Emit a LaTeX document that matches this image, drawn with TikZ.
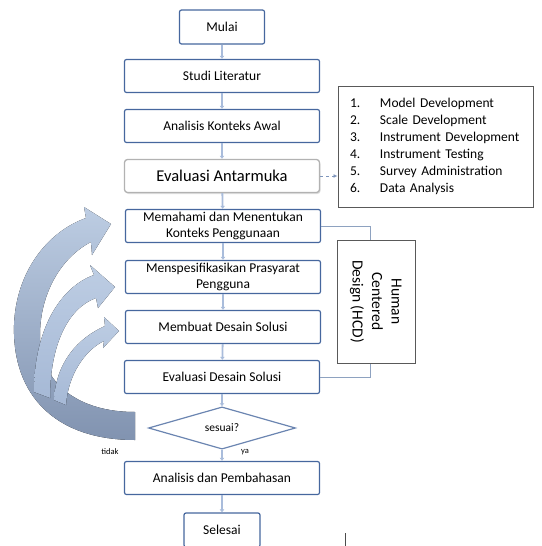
\documentclass[tikz,border=0pt]{standalone}
\usepackage{fontspec}
\usepackage{graphicx}
\setmainfont{Carlito}
\usetikzlibrary{shapes.geometric,arrows.meta,shadows}
\definecolor{bord}{HTML}{46679E}
\definecolor{lblue}{HTML}{A9BCDB}
\definecolor{hline}{HTML}{8EA2C0}
\definecolor{arrlight}{HTML}{BDCDE3}
\definecolor{arrmid}{HTML}{A6B9D6}
\definecolor{arrdark}{HTML}{8193B0}
\definecolor{gbord}{HTML}{595959}
\begin{document}
\begin{tikzpicture}[x=1pt,y=-1pt,
  box/.style={draw=bord, line width=1.2pt, rounded corners=2pt, fill=white,
    minimum width=195pt, minimum height=33pt, align=center, inner sep=1pt,
    font=\fontsize{13.5}{15.5}\selectfont},
  conn/.style={draw=lblue, line width=1.8pt, -{Latex[length=3pt,width=5pt]}},
  hcdline/.style={draw=hline, line width=1pt},
  smalllbl/.style={font=\fontsize{8.5}{9}\selectfont},
]
\useasboundingbox (0,0) rectangle (541,546);

% big feedback arrows
\fill[top color=arrlight, bottom color=arrdark]
  (135,440) .. controls (55,440) and (12,395) .. (14,325)
  .. controls (16,272) and (47,232) .. (86,218)
  -- (84,207) -- (111,224) -- (92,255) -- (91,242)
  .. controls (60,258) and (40,295) .. (40,335)
  .. controls (40,385) and (80,412) .. (135,412) -- cycle;
\fill[top color=arrlight, bottom color=arrmid]
  (34,392) .. controls (34,330) and (60,287) .. (94,275)
  -- (90,265) -- (115,287) -- (98,308) -- (96,298)
  .. controls (68,308) and (50,345) .. (50,398) -- cycle;
\fill[top color=arrlight, bottom color=arrmid]
  (54,400) .. controls (56,362) and (78,338) .. (105,326)
  -- (104,317) -- (119,331) -- (103,348) -- (104,341)
  .. controls (85,350) and (68,375) .. (66,405) -- cycle;

% main flow
\node[box, minimum width=85pt, minimum height=34pt] (mulai) at (222,27) {Mulai};
\node[box] (studi) at (222,76) {Studi Literatur};
\node[box] (awal) at (222,126) {Analisis Konteks Awal};
\node[box, draw=black!30, line width=1.3pt, rounded corners=3pt,
  drop shadow={opacity=0.25,shadow xshift=1pt,shadow yshift=-1.5pt},
  font=\fontsize{16.5}{18}\selectfont] (ea) at (222,176) {Evaluasi Antarmuka};
\node[box] (mem) at (223,226) {Memahami dan Menentukan\\Konteks Penggunaan};
\node[box] (spes) at (223,277) {Menspesifikasikan Prasyarat\\Pengguna};
\node[box] (buat) at (223,327) {Membuat Desain Solusi};
\node[box] (eds) at (222,377) {Evaluasi Desain Solusi};
\node[diamond, draw=bord!80, line width=1.2pt, fill=white, minimum width=147pt,
  minimum height=33pt, inner sep=0pt, font=\fontsize{11.5}{12.5}\selectfont] (ses) at (222,428) {sesuai?};
\node[box] (pemb) at (222,478) {Analisis dan Pembahasan};
\node[box, minimum width=76pt, minimum height=34pt] (sel) at (222,530) {Selesai};

\node[smalllbl] (ya) at (245,452) {ya};
\node[smalllbl] (tidak) at (110,452) {tidak};

\draw[conn] (mulai) -- (studi);
\draw[conn] (studi) -- (awal);
\draw[conn] (awal) -- (ea);
\draw[conn] (ea) -- (mem);
\draw[conn] (mem) -- (spes);
\draw[conn] (spes) -- (buat);
\draw[conn] (buat) -- (eds);
\draw[conn] (eds) -- (ses);
\draw[conn] (ses) -- (pemb);
\draw[conn] (pemb) -- (sel);

% list box
\node[draw=gbord, line width=1pt, minimum width=195pt, minimum height=121pt,
  inner xsep=12pt, inner ysep=0pt, text width=171pt,
  font=\fontsize{13.5}{17}\selectfont, align=left] (list) at (435.5,146.5)
  {\makebox[30pt][l]{1.}Model Development\\
   \makebox[30pt][l]{2.}Scale Development\\
   \makebox[30pt][l]{3.}Instrument Development\\
   \makebox[30pt][l]{4.}Instrument Testing\\
   \makebox[30pt][l]{5.}Survey Administration\\
   \makebox[30pt][l]{6.}Data Analysis};
\draw[draw=bord!70, line width=1pt, dashed, -{Latex[length=4pt,width=4pt]}] (ea.east) -- (ea.east -| list.west);

% HCD box
\node[draw=gbord, line width=1pt, fill=white, minimum width=78pt, minimum height=123pt,
  inner sep=0pt, font=\fontsize{15.5}{19.5}\selectfont] (hcd) at (376,301.5)
  {\rotatebox{-90}{\begin{tabular}{@{}c@{}}Human\\Centered\\Design (HCD)\end{tabular}}};
\draw[hcdline] (mem.east) -| ([xshift=-6pt]hcd.north);
\draw[hcdline] (eds.east) -| ([xshift=-6pt]hcd.south);

% stray mark
\draw[line width=0.8pt, black!70] (345,533) -- (345,546);
\end{tikzpicture}
\end{document}
